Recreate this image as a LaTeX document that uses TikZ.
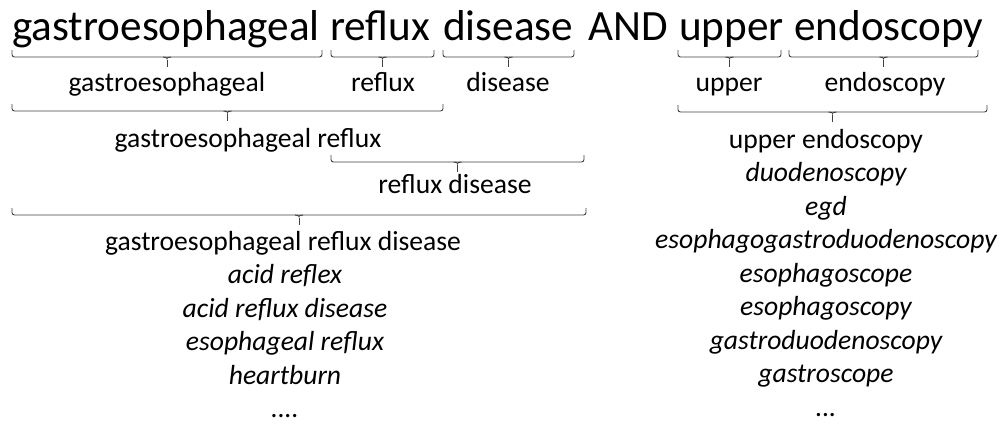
\documentclass[tikz,border=0pt]{standalone}
\usepackage{fontspec}
\setmainfont{Carlito}
\usepackage{tikz}
\usetikzlibrary{positioning,calc}
\definecolor{BraceGray}{RGB}{64, 64, 64}

% brace under a span: left x, right x, y of the flat line
\newcommand{\spanbrace}[3]{%
  \draw[bracestyle] (#1,#3-7) -- (#1,#3) -- (#2,#3) -- (#2,#3-7);
  \draw[bracestyle] ({(#1+#2)/2-4},#3) .. controls ({(#1+#2)/2-1},#3) and ({(#1+#2)/2},#3+1) .. ({(#1+#2)/2},#3+4)
    .. controls ({(#1+#2)/2},#3+1) and ({(#1+#2)/2+1},#3) .. ({(#1+#2)/2+4},#3);
  \draw[bracestyle] ({(#1+#2)/2},#3+3) -- ({(#1+#2)/2},#3+10);
}

\begin{document}
\begin{tikzpicture}[x=1pt, y=-1pt,
  bracestyle/.style={BraceGray, line width=0.9pt, rounded corners=2.5pt},
  query/.style={font=\fontsize{43.2}{50}\selectfont, inner sep=0pt, anchor=base west},
  term/.style={font=\fontsize{27.6}{33}\selectfont, inner sep=0pt, anchor=base},
  synonym/.style={term, font=\fontsize{27.6}{33}\selectfont\itshape}]
  \useasboundingbox (0,0) rectangle (1005,429);

  % Query
  \node[query] (qgastro) at (12,40) {gastroesophageal};
  \node[query] (qreflux) at (330,40) {reflux};
  \node[query] (qdisease) at (443,40) {disease};
  \node[query] (qand) at (588,40) {AND};
  \node[query] (qupper) at (679,40) {upper};
  \node[query] (qendo) at (794,40) {endoscopy};

  % Single words
  \spanbrace{12}{322}{57}
  \spanbrace{331}{434}{57}
  \spanbrace{443}{574}{57}
  \spanbrace{678}{781}{57}
  \spanbrace{789}{978}{57}
  \node[term] (tgastro) at (167,91) {gastroesophageal};
  \node[term] (treflux) at (383,91) {reflux};
  \node[term] (tdisease) at (508,91) {disease};
  \node[term] (tupper) at (729,91) {upper};
  \node[term] (tendo) at (885,91) {endoscopy};

  % Pairs
  \spanbrace{12}{443}{111}
  \node[term] (tgastroreflux) at (248,147) {gastroesophageal reflux};
  \spanbrace{331}{584}{162}
  \node[term] (trefluxdisease) at (455,193) {reflux disease};

  % Whole phrase, left
  \spanbrace{12}{586}{215}
  \node[term] (tgerd) at (283,250) {gastroesophageal reflux disease};
  \foreach \syn [count=\i] in {acid reflex, acid reflux disease, esophageal reflux, heartburn}
    \node[synonym] (lsyn\i) at (285,250+33.5*\i) {\syn};
  \node[synonym] (lmore) at (285,417.5) {....};

  % Whole phrase, right
  \spanbrace{678}{987}{112}
  \node[term] (tupperendo) at (826,148) {upper endoscopy};
  \foreach \syn [count=\i] in {duodenoscopy, egd, esophagogastroduodenoscopy, esophagoscope, esophagoscopy, gastroduodenoscopy, gastroscope}
    \node[synonym] (rsyn\i) at (826,148+33.5*\i) {\syn};
  \node[synonym] (rmore) at (826,416) {...};
\end{tikzpicture}
\end{document}
